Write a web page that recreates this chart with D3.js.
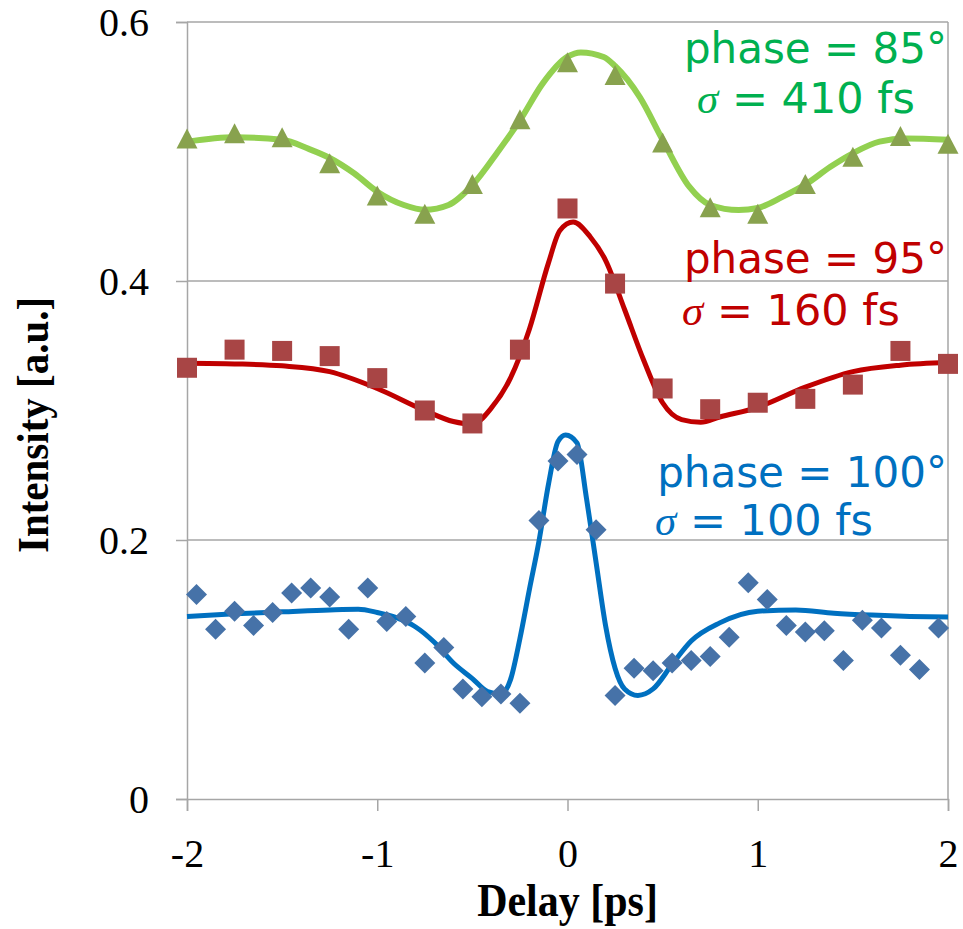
<!DOCTYPE html>
<html>
<head>
<meta charset="utf-8">
<script src="https://cdn.jsdelivr.net/npm/d3@7"></script>
<style>
  body { margin: 0; background: #fff; }
</style>
</head>
<body>
<svg id="chart" width="963" height="929"></svg>
<script>
// measured points (delay in ps, intensity in a.u.)
var blueX = [-1.95, -1.85, -1.75, -1.65, -1.55, -1.45, -1.35, -1.25, -1.15, -1.05,
             -0.95, -0.85, -0.75, -0.65, -0.55, -0.45, -0.35, -0.25, -0.15, -0.05,
             0.05, 0.15, 0.25, 0.35, 0.45, 0.55, 0.65, 0.75, 0.85, 0.95,
             1.05, 1.15, 1.25, 1.35, 1.45, 1.55, 1.65, 1.75, 1.85, 1.95];
var blueY = [0.158, 0.131, 0.145, 0.134, 0.144, 0.159, 0.163, 0.156, 0.131, 0.163,
             0.137, 0.141, 0.105, 0.117, 0.085, 0.079, 0.081, 0.074, 0.215, 0.261,
             0.266, 0.208, 0.080, 0.101, 0.099, 0.105, 0.107, 0.110, 0.125, 0.167,
             0.154, 0.134, 0.129, 0.130, 0.107, 0.138, 0.132, 0.111, 0.100, 0.132];

var quarterX = [-2, -1.75, -1.5, -1.25, -1, -0.75, -0.5, -0.25, 0,
                0.25, 0.5, 0.75, 1, 1.25, 1.5, 1.75, 2];
var redY = [0.333, 0.347, 0.346, 0.342, 0.325, 0.300, 0.290, 0.347, 0.456,
            0.398, 0.317, 0.301, 0.306, 0.309, 0.320, 0.346, 0.336];
var greenY = [0.510, 0.514, 0.511, 0.491, 0.466, 0.452, 0.475, 0.525, 0.569,
              0.559, 0.507, 0.457, 0.452, 0.475, 0.496, 0.512, 0.506];

// fitted curves
var blueFitX = [-2, -1.75, -1.5, -1.25, -1.1, -1, -0.9, -0.8, -0.7, -0.6, -0.5, -0.42, -0.35,
                -0.3, -0.25, -0.2, -0.15, -0.1, -0.05, -0.01, 0.05, 0.1, 0.15, 0.2, 0.25,
                0.3, 0.37, 0.45, 0.55, 0.65, 0.8, 1, 1.2, 1.4, 1.6, 1.8, 2];
var blueFitY = [0.141, 0.143, 0.1445, 0.146, 0.1465, 0.144, 0.140, 0.133, 0.121, 0.105, 0.093, 0.083, 0.081,
                0.092, 0.124, 0.162, 0.199, 0.243, 0.276, 0.281, 0.275, 0.232, 0.183, 0.134, 0.101,
                0.085, 0.080, 0.085, 0.104, 0.122, 0.136, 0.145, 0.146, 0.1435, 0.142, 0.141, 0.1405];

var redFitX = [-2, -1.75, -1.5, -1.25, -1, -0.75, -0.6, -0.5, -0.4, -0.3, -0.2, -0.1, -0.04,
               0.03, 0.12, 0.2, 0.3, 0.4, 0.5, 0.6, 0.7, 0.8, 1, 1.25, 1.5, 1.75, 2];
var redFitY = [0.3365, 0.336, 0.3345, 0.330, 0.317, 0.300, 0.2915, 0.2895, 0.302, 0.325, 0.363, 0.414, 0.439,
               0.4455, 0.434, 0.416, 0.378, 0.339, 0.306, 0.293, 0.291, 0.295, 0.3025, 0.318, 0.330, 0.335, 0.337];

var greenFitX = [-2, -1.75, -1.5, -1.36, -1.25, -1.12, -1, -0.86, -0.75, -0.625, -0.5, -0.36, -0.25,
                 -0.13, 0, 0.07, 0.19, 0.25, 0.38, 0.5, 0.64, 0.75, 0.9, 1, 1.13, 1.26, 1.38,
                 1.5, 1.64, 1.78, 2];
var greenFitY = [0.5076, 0.511, 0.509, 0.502, 0.495, 0.483, 0.469, 0.4587, 0.455, 0.4587, 0.474, 0.501, 0.524,
                 0.5526, 0.5732, 0.5765, 0.573, 0.566, 0.542, 0.509, 0.4728, 0.4587, 0.4548, 0.4564, 0.465, 0.4754, 0.488,
                 0.4986, 0.5076, 0.510, 0.509];

var xTicks = [-2, -1, 0, 1, 2];
var yTicks = [0, 0.2, 0.4, 0.6];

var serif = '"Liberation Serif", "Times New Roman", serif';
var sans = '"DejaVu Sans", Verdana, sans-serif';

var svg = d3.select("#chart");

var x = d3.scaleLinear().domain([-2, 2]).range([187, 948]);
var y = d3.scaleLinear().domain([0, 0.6]).range([799, 22]);

var axisColor = "#a6a6a6";

// gridlines (top one doubles as the frame)
svg.selectAll(".grid")
    .data(yTicks.filter(function(d) { return d > 0; }))
  .enter().append("line")
    .attr("x1", x(-2)).attr("x2", x(2))
    .attr("y1", function(d) { return y(d); })
    .attr("y2", function(d) { return y(d); })
    .attr("stroke", axisColor)
    .attr("stroke-width", 1.5);

// right frame
svg.append("line")
    .attr("x1", x(2)).attr("x2", x(2))
    .attr("y1", y(0.6)).attr("y2", y(0))
    .attr("stroke", axisColor).attr("stroke-width", 1.5);

// y axis
var yAxis = d3.axisLeft(y).tickValues(yTicks).tickSize(11).tickFormat(d3.format("~g"));
var gy = svg.append("g").attr("transform", "translate(" + x(-2) + ",0)").call(yAxis);
gy.select(".domain").attr("stroke", axisColor).attr("stroke-width", 1.5);
gy.selectAll(".tick line").attr("stroke", axisColor).attr("stroke-width", 1.5);
gy.selectAll(".tick text")
    .attr("x", -38)
    .attr("dy", "0.34em")
    .attr("fill", "#000")
    .style("font-family", serif)
    .style("font-size", "40px");

// x axis, plain hyphen for negatives as in the original
var xAxis = d3.axisBottom(x).tickValues(xTicks).tickSize(12)
    .tickFormat(function(d) { return String(d); });
var gx = svg.append("g").attr("transform", "translate(0," + y(0) + ")").call(xAxis);
gx.select(".domain").attr("stroke", axisColor).attr("stroke-width", 1.5);
gx.selectAll(".tick line").attr("stroke", axisColor).attr("stroke-width", 1.5);
gx.selectAll(".tick text")
    .attr("y", 68)
    .attr("dy", 0)
    .attr("fill", "#000")
    .style("font-family", serif)
    .style("font-size", "40px");

// axis titles
svg.append("text")
    .attr("transform", "translate(" + ((x(-2) + x(2)) / 2) + ",916) scale(1,1.1)")
    .attr("text-anchor", "middle")
    .style("font-family", serif).style("font-size", "42px").style("font-weight", "bold")
    .text("Delay [ps]");

svg.append("text")
    .attr("transform", "translate(48,425) rotate(-90) scale(1,1.1)")
    .attr("text-anchor", "middle")
    .style("font-family", serif).style("font-size", "41px").style("font-weight", "bold")
    .text("Intensity [a.u.]");

// fitted lines
var line = d3.line()
    .x(function(d) { return x(d[0]); })
    .y(function(d) { return y(d[1]); })
    .curve(d3.curveMonotoneX);

function pairs(xs, ys) {
  return xs.map(function(v, i) { return [v, ys[i]]; });
}

svg.append("path")
    .attr("d", line(pairs(greenFitX, greenFitY)))
    .attr("fill", "none").attr("stroke", "#92d050").attr("stroke-width", 6);
svg.append("path")
    .attr("d", line(pairs(redFitX, redFitY)))
    .attr("fill", "none").attr("stroke", "#c00000").attr("stroke-width", 5);
svg.append("path")
    .attr("d", line(pairs(blueFitX, blueFitY)))
    .attr("fill", "none").attr("stroke", "#0070c0").attr("stroke-width", 5);

// markers
svg.selectAll(".tri")
    .data(pairs(quarterX, greenY))
  .enter().append("path")
    .attr("class", "tri")
    .attr("d", "M0,-10L10.5,10L-10.5,10Z")
    .attr("transform", function(d) { return "translate(" + x(d[0]) + "," + y(d[1]) + ")"; })
    .attr("fill", "#88a24e");

svg.selectAll(".sq")
    .data(pairs(quarterX, redY))
  .enter().append("rect")
    .attr("class", "sq")
    .attr("x", function(d) { return x(d[0]) - 10; })
    .attr("y", function(d) { return y(d[1]) - 10; })
    .attr("width", 20).attr("height", 20)
    .attr("fill", "#a84545");

svg.selectAll(".dia")
    .data(pairs(blueX, blueY))
  .enter().append("path")
    .attr("class", "dia")
    .attr("d", "M0,-10.5L10.5,0L0,10.5L-10.5,0Z")
    .attr("transform", function(d) { return "translate(" + x(d[0]) + "," + y(d[1]) + ")"; })
    .attr("fill", "#4672a8");

// annotations
var notes = [
  {color: "#00b050", phase: "85°", sigma: "410 fs", py: 63, sx: 697, sy: 113},
  {color: "#c00000", phase: "95°", sigma: "160 fs", py: 273, sx: 682, sy: 325},
  {color: "#0070c0", phase: "100°", sigma: "100 fs", py: 487, sx: 655, sy: 535}
];

notes.forEach(function(n) {
  svg.append("text")
      .attr("x", 947).attr("y", n.py)
      .attr("text-anchor", "end")
      .attr("fill", n.color)
      .style("font-family", sans).style("font-size", "42px")
      .text("phase = " + n.phase);
  var t = svg.append("text")
      .attr("x", n.sx).attr("y", n.sy)
      .attr("fill", n.color)
      .style("font-family", sans).style("font-size", "43px");
  t.append("tspan").style("font-family", serif).style("font-style", "italic").text("σ");
  t.append("tspan").text(" = " + n.sigma);
});
</script>
</body>
</html>
